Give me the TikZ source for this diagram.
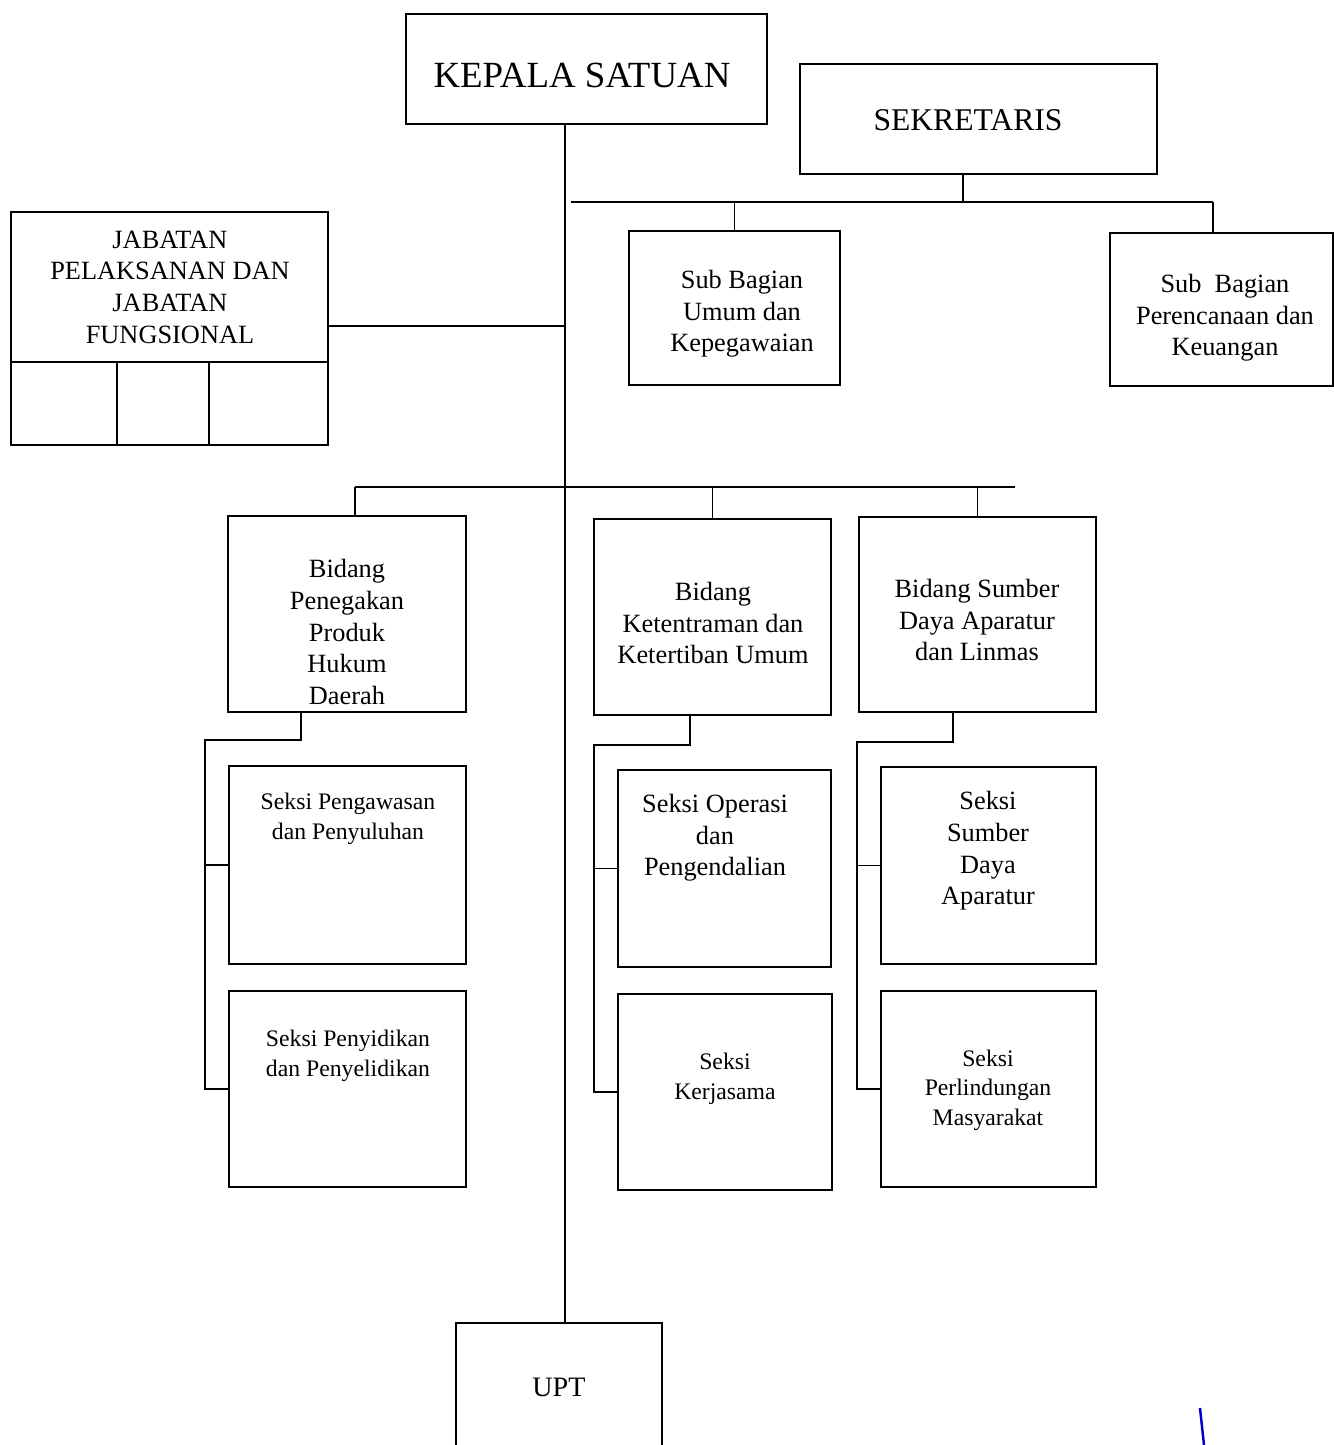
\documentclass[tikz,border=0pt]{standalone}
\usepackage{fontspec}
\setmainfont{Liberation Serif}
\usetikzlibrary{fit}

\begin{document}
\begin{tikzpicture}[x=0.02cm, y=-0.02cm,
    unitbox/.style={draw, line width=1.1pt, inner sep=0pt},
    unittext/.style={align=center, inner sep=0pt, font=\fontsize{15}{18}\selectfont},
    smalltext/.style={unittext, font=\fontsize{13.5}{16.8}\selectfont},
    link/.style={line width=1.1pt}]
    		% Page
    		\useasboundingbox (0,0) rectangle (1334,1445);
    		\fill[white] (0,0) rectangle (1334,1445);

    		% Kepala Satuan and Sekretaris
    		\node[unitbox, fit={(406,14) (767,124)}] (kepala) {};
    		\node[unittext, font=\fontsize{21}{25}\selectfont] (kepalatxt) at (582,75) {KEPALA SATUAN};
    		\node[unitbox, fit={(800,64) (1157,174)}] (sekretaris) {};
    		\node[unittext, font=\fontsize{18}{22}\selectfont] (sekretaristxt) at (968,120) {SEKRETARIS};

    		% Jabatan pelaksana / fungsional
    		\node[unitbox, fit={(11,212) (328,362)}] (jabatan) {};
    		\node[unittext] (jabatantxt) at (170,287) {JABATAN\\PELAKSANAN DAN\\JABATAN\\FUNGSIONAL};
    		\foreach \a/\b [count=\i] in {11/117, 117/209, 209/328}
    			\node[unitbox, fit={(\a,362) (\b,445)}] (jabcell\i) {};

    		% Sub bagian
    		\node[unitbox, fit={(629,231) (840,385)}] (umum) {};
    		\node[unittext] (umumtxt) at (742,314) {Sub Bagian\\Umum dan\\Kepegawaian};
    		\node[unitbox, fit={(1110,233) (1333,386)}] (rencana) {};
    		\node[unittext] (rencanatxt) at (1225,318) {Sub\ \ Bagian\\Perencanaan dan\\Keuangan};

    		% Bidang
    		\node[unitbox, fit={(228,516) (466,712)}] (penegakan) {};
    		\node[unittext] (penegakantxt) at (347,632) {Bidang\\Penegakan\\Produk\\Hukum\\Daerah};
    		\node[unitbox, fit={(594,519) (831,715)}] (ketentraman) {};
    		\node[unittext] (ketentramantxt) at (713,623) {Bidang\\Ketentraman dan\\Ketertiban Umum};
    		\node[unitbox, fit={(859,517) (1096,712)}] (sumber) {};
    		\node[unittext] (sumbertxt) at (977,620) {Bidang Sumber\\Daya Aparatur\\dan Linmas};

    		% Seksi under Bidang Penegakan
    		\node[unitbox, fit={(229,766) (466,964)}] (awas) {};
    		\node[smalltext] (awastxt) at (348,819) {Seksi Pengawasan\\dan Penyuluhan};
    		\node[unitbox, fit={(229,991) (466,1187)}] (pidik) {};
    		\node[smalltext] (pidiktxt) at (348,1056) {Seksi Penyidikan\\dan Penyelidikan};

    		% Seksi under Bidang Ketentraman
    		\node[unitbox, fit={(618,770) (831,967)}] (operasi) {};
    		\node[unittext] (operasitxt) at (715,838) {Seksi Operasi\\dan\\Pengendalian};
    		\node[unitbox, fit={(618,994) (832,1190)}] (kerjasama) {};
    		\node[smalltext] (kerjasamatxt) at (725,1079) {Seksi\\Kerjasama};

    		% Seksi under Bidang Sumber Daya
    		\node[unitbox, fit={(881,767) (1096,964)}] (sda) {};
    		\node[unittext] (sdatxt) at (988,851) {Seksi\\Sumber\\Daya\\Aparatur};
    		\node[unitbox, fit={(881,991) (1096,1187)}] (lindung) {};
    		\node[smalltext] (lindungtxt) at (988,1090) {Seksi\\Perlindungan\\Masyarakat};

    		% UPT
    		\node[unitbox, fit={(456,1323) (662,1460)}] (upt) {};
    		\node[unittext, font=\fontsize{16}{19}\selectfont] (upttxt) at (559,1387) {UPT};

    		% Main line
    		\coordinate (spine) at (565,0);
    		\draw[link] (kepala.south -| spine) -- (upt.north -| spine);

    		% Jabatan to main line
    		\coordinate (jabjoin) at (565,326);
    		\draw[link] (jabatan.east |- jabjoin) -- (jabjoin);

    		% Sekretaris bar
    		\coordinate (sekL) at (571,202);
    		\coordinate (sekR) at (1213,202);
    		\coordinate (sekdrop) at (963,202);
    		\draw[link] (sekL) -- (sekR);
    		\draw[link] (sekdrop |- sekretaris.south) -- (sekdrop);
    		\draw[link] (umum.north) -- (umum.north |- sekL);
    		\draw[link] (sekR) -- (sekR |- rencana.north);

    		% Bidang bar
    		\coordinate (bidL) at (355,487);
    		\coordinate (bidR) at (1015,487);
    		\draw[link] (bidL) -- (bidR);
    		\draw[link] (bidL) -- (bidL |- penegakan.north);
    		\draw[link] (ketentraman.north |- bidL) -- (ketentraman.north);
    		\draw[link] (sumber.north |- bidL) -- (sumber.north);

    		% Left column rail
    		\coordinate (jointA) at (301,740);
    		\coordinate (railA) at (205,740);
    		\draw[link] (jointA |- penegakan.south) -- (jointA) -- (railA) -- (railA |- pidik.west) -- (pidik.west);
    		\draw[link] (railA |- awas.west) -- (awas.west);

    		% Middle column rail
    		\coordinate (jointB) at (690,745);
    		\coordinate (railB) at (594,745);
    		\draw[link] (jointB |- ketentraman.south) -- (jointB) -- (railB) -- (railB |- kerjasama.west) -- (kerjasama.west);
    		\draw[link] (railB |- operasi.west) -- (operasi.west);

    		% Right column rail
    		\coordinate (jointC) at (953,742);
    		\coordinate (railC) at (857,742);
    		\draw[link] (jointC |- sumber.south) -- (jointC) -- (railC) -- (railC |- lindung.west) -- (lindung.west);
    		\draw[link] (railC |- sda.west) -- (sda.west);

    		% Pen mark
    		\draw[blue!80!black, line width=1.4pt] (1200,1408) -- (1204,1445);
    	\end{tikzpicture}
\end{document}
